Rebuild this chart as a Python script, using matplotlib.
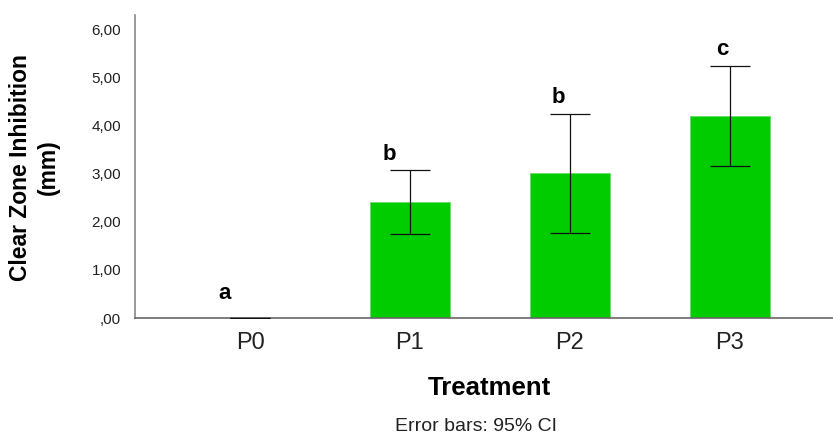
import matplotlib
matplotlib.use('Agg')
import matplotlib.pyplot as plt
from matplotlib.ticker import FuncFormatter
import numpy as np

plt.rcParams['font.family'] = ['Liberation Sans', 'DejaVu Sans']

# values (mm)
treatments = ['P0', 'P1', 'P2', 'P3']
means = [0.0, 2.41, 3.01, 4.21]
ci_low = [0.0, 1.74, 1.76, 3.17]
ci_high = [0.0, 3.08, 4.25, 5.25]
letters = ['a', 'b', 'b', 'c']

fig = plt.figure(figsize=(8.33, 4.37), dpi=100)
ax = fig.add_axes([0.162, 0.2723, 0.852, 0.6934])

x = np.arange(len(treatments))
means = np.array(means)
yerr = [means - np.array(ci_low), np.array(ci_high) - means]

ax.bar(x, means, width=0.5, color='#00cc00', edgecolor='#66dd66', linewidth=0.6, zorder=2)
ax.errorbar(x, means, yerr=yerr, fmt='none', ecolor='#111111', elinewidth=0.9,
            capsize=14.4, capthick=0.9, zorder=3)

## letters just over the upper CI, nudged left like the original
shift = [-0.16, -0.13, -0.07, -0.045]
for i, lab in enumerate(letters):
    ax.annotate(lab, (x[i] + shift[i], ci_high[i]), xytext=(0, 7.5 if i else 13.5),
                textcoords='offset points', ha='center', va='baseline',
                fontsize=16, fontweight='bold')

ax.set_xlim(-0.72, 3.72)
ax.set_ylim(0, 6.31)
ax.set_yticks(np.arange(0, 7, 1))
ax.yaxis.set_major_formatter(FuncFormatter(lambda v, p: ',00' if v == 0 else f'{int(v)},00'))
ax.set_xticks(x)
ax.set_xticklabels(treatments)
ax.tick_params(axis='y', length=0, pad=10, labelsize=11, labelcolor='#222222')
ax.tick_params(axis='x', length=0, pad=10, labelsize=17, labelcolor='#222222')

for s in ['top', 'right']:
    ax.spines[s].set_visible(False)
ax.spines['left'].set_color('#888888')
ax.spines['bottom'].set_color('#666666')
ax.spines['left'].set_linewidth(1.2)
ax.spines['bottom'].set_linewidth(1.2)

fig.text(0.041, 0.617, 'Clear Zone Inhibition\n(mm)', rotation=90, ha='center', va='center',
         multialignment='center', fontsize=16.5, fontweight='bold', linespacing=1.25)
fig.text(0.588, 0.112, 'Treatment', ha='center', va='center', fontsize=18.5, fontweight='bold')
fig.text(0.571, 0.025, 'Error bars: 95% CI', ha='center', va='center', fontsize=14, color='#222222')

fig.savefig('out.png', dpi=100)
